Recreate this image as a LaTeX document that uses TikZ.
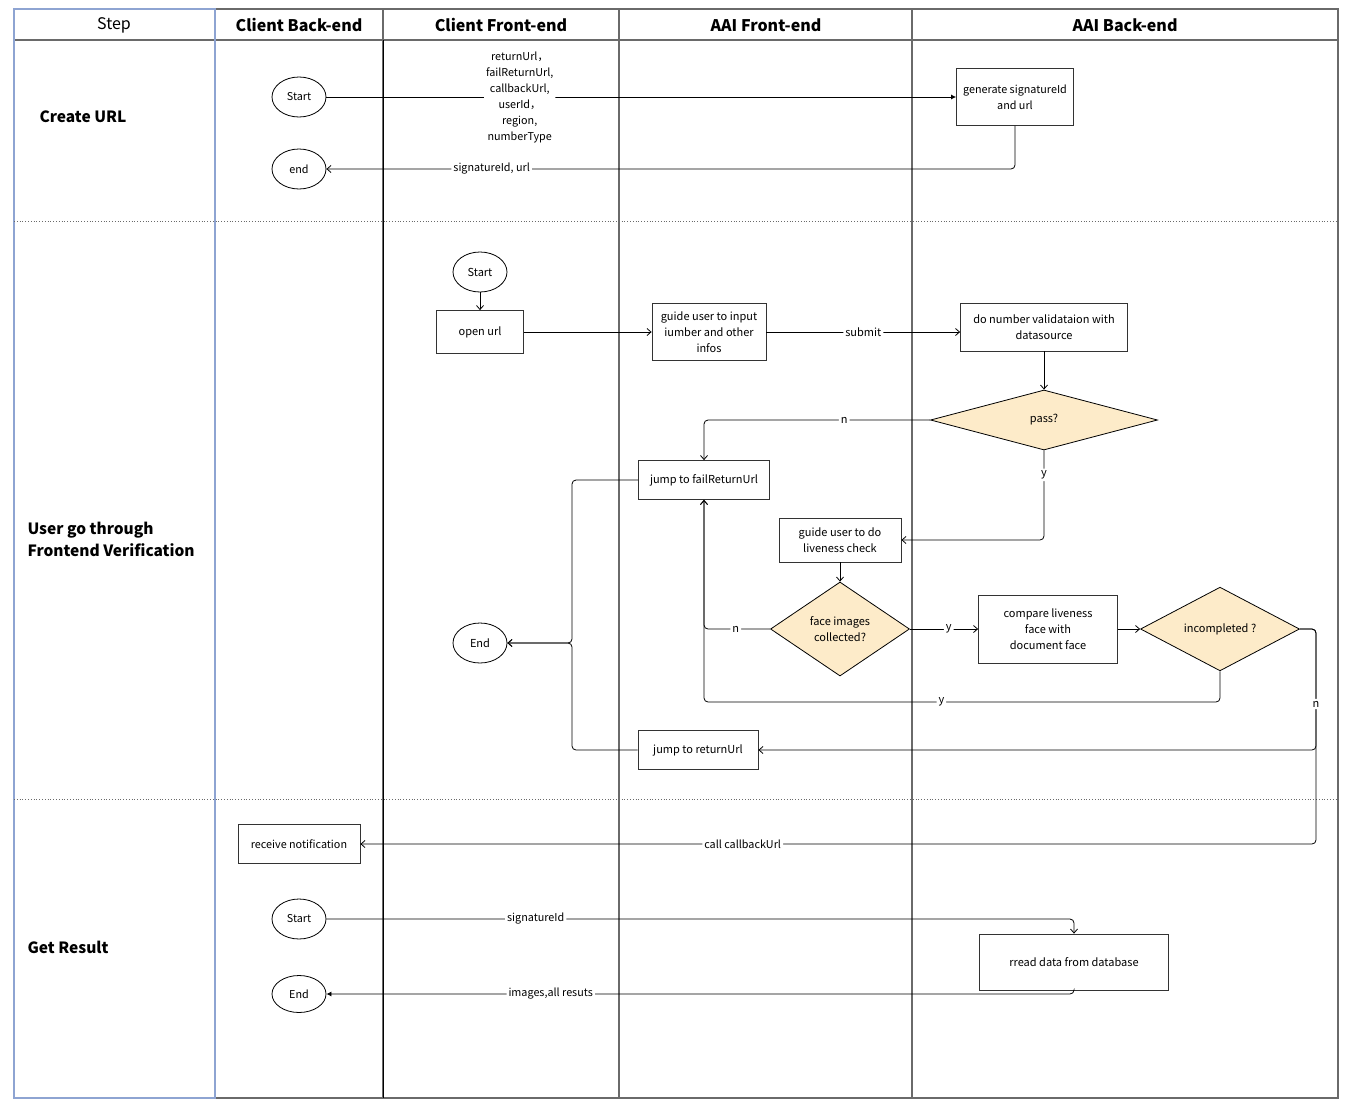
\documentclass[tikz,border=0pt]{standalone}
\usepackage{fontspec}
\setmainfont{Noto Sans CJK SC}
\usepackage{tikz}
\usetikzlibrary{arrows.meta, positioning, shapes.geometric}
\definecolor{lanegray}{HTML}{6A6A6A}
\definecolor{stepblue}{HTML}{8EA4D2}
\definecolor{decfill}{HTML}{FDEBC9}

\begin{document}
\begin{tikzpicture}[x=1pt, y=-1pt,
  term/.style={ellipse, draw, line width=0.8pt, minimum width=54, minimum height=40, inner sep=0pt},
  proc/.style={rectangle, draw=black!80, line width=0.8pt, align=center, inner sep=2pt},
  dec/.style={diamond, draw, fill=decfill, line width=0.8pt, inner sep=0pt, align=center},
  smalltxt/.style={font=\fontsize{10.8}{16}\selectfont},
  midtxt/.style={font=\fontsize{11}{16}\selectfont},
  flow/.style={line width=0.8pt, rounded corners=4pt, -{Straight Barb[length=4pt, width=7pt]}},
  flowfill/.style={line width=0.8pt, rounded corners=4pt, -{Latex[length=5pt, width=5pt]}},
  lbl/.style={fill=white, inner sep=2pt},
  lanehead/.style={font=\fontsize{16}{18}\selectfont\bfseries},
  steplbl/.style={font=\fontsize{15.5}{22}\selectfont\bfseries, anchor=west, align=left}]
  \useasboundingbox (0,0) rectangle (1352,1111);

  % swim lanes
  \draw[lanegray, line width=1.2pt] (215,9) -- (1338,9) -- (1338,1098) -- (215,1098);
  \draw[lanegray, line width=1.2pt] (14,40) -- (1338,40);
  \foreach \lx in {383, 619, 912}
    \draw[lanegray, line width=1.2pt] (\lx,9) -- (\lx,1098);
  \draw[black, line width=0.8pt] (383,40) -- (383,1098);
  \draw[stepblue, line width=1.2pt] (14,9) rectangle (215,1098);
  \draw[lanegray, dotted, line width=0.8pt] (14,221) -- (1338,221);
  \draw[lanegray, dotted, line width=0.8pt] (14,799) -- (1338,799);

  \node[font=\fontsize{16}{18}\selectfont] (hStep) at (114,25) {Step};
  \node[lanehead] (hCB) at (299,25) {Client Back-end};
  \node[lanehead] (hCF) at (501,25) {Client Front-end};
  \node[lanehead] (hAF) at (766,25) {AAI Front-end};
  \node[lanehead] (hAB) at (1125,25) {AAI Back-end};

  \node[steplbl] (sCreate) at (36,117) {Create URL};
  \node[steplbl] (sVerify) at (24,539) {User go through\\Frontend Verification};
  \node[steplbl] (sResult) at (24,947) {Get Result};

  % create url
  \node[term, smalltxt] (startA) at (299,97) {Start};
  \node[term, smalltxt] (endA) at (299,169) {end};
  \node[proc, smalltxt, minimum width=117, minimum height=57] (gen) at (1015,97) {generate signatureId\\and url};
  \draw[flowfill] (startA.east) -- node[lbl, smalltxt, align=center, pos=0.307]
    {returnUrl，\\failReturnUrl,\\callbackUrl,\\userId，\\region,\\numberType} (gen.west);
  \draw[flow] (gen.south) |- node[lbl, smalltxt, pos=0.88] {signatureId, url} (endA.east);

  % frontend verification
  \node[term, midtxt] (startB) at (480,272) {Start};
  \node[proc, midtxt, minimum width=87, minimum height=43] (openurl) at (480,332) {open url};
  \node[proc, midtxt, minimum width=114, minimum height=57] (guide) at (709,332) {guide user to input\\iumber and other\\infos};
  \node[proc, midtxt, minimum width=167, minimum height=48] (valid) at (1044,327) {do number validataion with\\datasource};
  \node[dec, midtxt, minimum width=227, minimum height=60] (pass) at (1044,420) {pass?};
  \node[proc, midtxt, minimum width=131, minimum height=39] (fail) at (704,480) {jump to failReturnUrl};
  \node[proc, midtxt, minimum width=122, minimum height=44] (live) at (840,540) {guide user to do\\liveness check};
  \node[dec, midtxt, minimum width=139, minimum height=94] (face) at (840,629) {face images\\collected?};
  \node[proc, midtxt, minimum width=139, minimum height=68] (cmp) at (1048,629) {compare liveness\\face with\\document face};
  \node[dec, midtxt, minimum width=159, minimum height=72] (inc) at (1220,629) {incompleted ?};
  \node[proc, midtxt, minimum width=120, minimum height=39] (ret) at (698,750) {jump to returnUrl};
  \node[term, midtxt] (endB) at (480,643) {End};
  \coordinate (loopY) at (704,702);
  \coordinate (nX) at (1316,629);
  \coordinate (merge) at (572,643);

  % get result
  \node[proc, smalltxt, minimum width=122, minimum height=39] (recv) at (299,844) {receive notification};
  \node[term, smalltxt] (startC) at (299,919) {Start};
  \node[term, smalltxt, minimum height=37] (endC) at (299,994) {End};
  \node[proc, midtxt, minimum width=189, minimum height=56] (rread) at (1074,962) {rread data from database};

  \draw[flow] (startB) -- (openurl);
  \draw[flow] (openurl.east) -- (guide.west);
  \draw[flow] (guide.east) -- node[lbl, midtxt] {submit} (guide.east -| valid.west);
  \draw[flow] (valid) -- (pass);
  \draw[flow] (pass.west) -| node[lbl, midtxt, pos=0.19] {n} (fail.north);
  \draw[flow] (pass.south) |- node[lbl, midtxt, pos=0.136] {y} (live.east);
  \draw[flow] (live) -- (face);
  \draw[flow] (face.west) -| node[lbl, midtxt, pos=0.26] {n} (fail.south);
  \draw[flow] (face.east) -- node[lbl, midtxt, pos=0.57] {y} (cmp.west);
  \draw[flow] (cmp.east) -- (inc.west);
  \draw[flow] (inc.south) |- node[lbl, midtxt, pos=0.77] {y} (loopY) -- (fail.south);
  \draw[flow] (inc.east) -- (nX) |- node[lbl, smalltxt, pos=0.8] {call callbackUrl} (recv.east);
  \draw[flow] (inc.east) -- (nX) |- node[lbl, midtxt, pos=0.31] {n} (ret.east);
  \draw[flow] (fail.west) -| (merge) -- (endB.east);
  \draw[flow] (ret.west) -| (merge) -- (endB.east);

  \draw[flow] (startC.east) -| node[lbl, smalltxt, pos=0.14] {signatureId} (rread.north);
  \draw[flowfill] (rread.south) |- node[lbl, smalltxt, pos=0.85] {images,all resuts} (endC.east);
\end{tikzpicture}
\end{document}
